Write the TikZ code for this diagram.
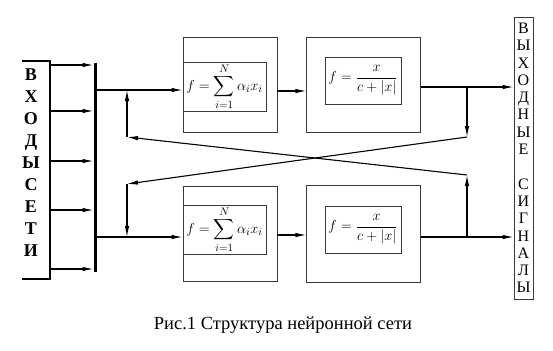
\documentclass[tikz,border=0pt]{standalone}
\usepackage{amsmath}
\usepackage{fontspec}
\setmainfont{Liberation Serif}
\usetikzlibrary{arrows.meta,positioning,calc}
\definecolor{cBox}{HTML}{3A3A3A}
\tikzset{
  mbox/.style={draw=cBox, line width=0.9pt, minimum width=#1, minimum height=95pt, inner sep=0pt},
  fbox/.style={draw=cBox, line width=0.9pt, minimum width=#1, minimum height=48pt, inner sep=0pt,
               font=\fontsize{15.5}{15.5}\selectfont},
  sarr/.style={-{Latex[length=11pt,width=4.5pt]}, line width=1.1pt},
  sline/.style={line width=1.1pt},
  inlbl/.style={font=\fontsize{18}{22}\selectfont\bfseries, align=center},
  outlbl/.style={draw=cBox, line width=0.9pt, minimum width=19pt, minimum height=282pt, inner sep=0pt,
                 font=\fontsize{16}{17.3}\selectfont, align=center},
}
\newcommand{\fsum}{$f=\displaystyle\sum_{i=1}^{N}\alpha_i x_i$}
\newcommand{\fact}{$f=\dfrac{x}{c+|x|}$}

\begin{document}
\begin{tikzpicture}[x=1pt,y=-1pt]
\useasboundingbox (0,0) rectangle (553,350);
% ---- inputs
\draw[sline] (22,61) -- (50,61) -- (50,279) -- (22,279);
\node[inlbl] (inl) at (31,163) {В\\Х\\О\\Д\\Ы\\С\\Е\\Т\\И};
\draw[line width=3pt] (95,63) -- (95,272);
\foreach \y [count=\k] in {65,111,161,210,269} {
  \coordinate (in\k) at (50,\y);
  \coordinate (bar\k) at (93.5,\y);
  \draw[sarr] (in\k) -- (bar\k);
}
\coordinate (j1) at (96.5,90);
\coordinate (j2) at (96.5,237);
% ---- upper neuron
\node[mbox=94pt] (s1) at (230,84.5) {};
\node[fbox=83pt, minimum height=49pt] (s1f) at (224.5,86.5) {\fsum};
\node[mbox=114pt, right=29pt of s1] (a1) {};
\node[fbox=76pt, minimum height=47pt] (a1f) at (363,80.5) {\fact};
% ---- lower neuron
\node[mbox=94pt] (s2) at (230,233.5) {};
\node[fbox=83pt, minimum height=49pt] (s2f) at (224.5,229.5) {\fsum};
\node[mbox=114pt, minimum height=97pt, right=29pt of s2] (a2) {};
\node[fbox=76pt, minimum height=47pt] (a2f) at (363,229.5) {\fact};
\draw[sarr] (j1) -- (j1 -| s1f.west);
\draw[sarr] (j2) -- (j2 -| s2f.west);
\draw[sarr] ([yshift=-6.5pt]s1.east) -- ([yshift=-6.5pt]a1.west);
\draw[sarr] ([yshift=-1.5pt]s2.east) -- ([yshift=-1.5pt]a2.west);
% ---- outputs
\node[outlbl] (outc) at (523.5,158)
  {В\\Ы\\Х\\О\\Д\\Н\\Ы\\Е\\\strut\\С\\И\\Г\\Н\\А\\Л\\Ы};
\coordinate (t1) at (467,87);
\coordinate (t2) at (467,137);
\coordinate (b1) at (467,237);
\coordinate (b2) at (467,175);
\coordinate (l1) at (127,184);
\coordinate (l2) at (127,137);
\draw[sarr] (a1.east |- t1) -- (outc.west |- t1);
\draw[sarr] (a2.east |- b1) -- (outc.west |- b1);
% cross feedback between the two neurons
\draw[sarr] (t1) -- (t2);
\draw[sarr] (t2) -- (l1);
\draw[sarr] (l1) -- (l1 |- j2);
\draw[sarr] (b1) -- (b2);
\draw[sarr] (b2) -- (l2);
\draw[sarr] (l2) -- (l2 |- j1);
\node[font=\fontsize{18.5}{18.5}\selectfont] (cap) at (283,325) {Рис.1 Структура нейронной сети};
\end{tikzpicture}
\end{document}
